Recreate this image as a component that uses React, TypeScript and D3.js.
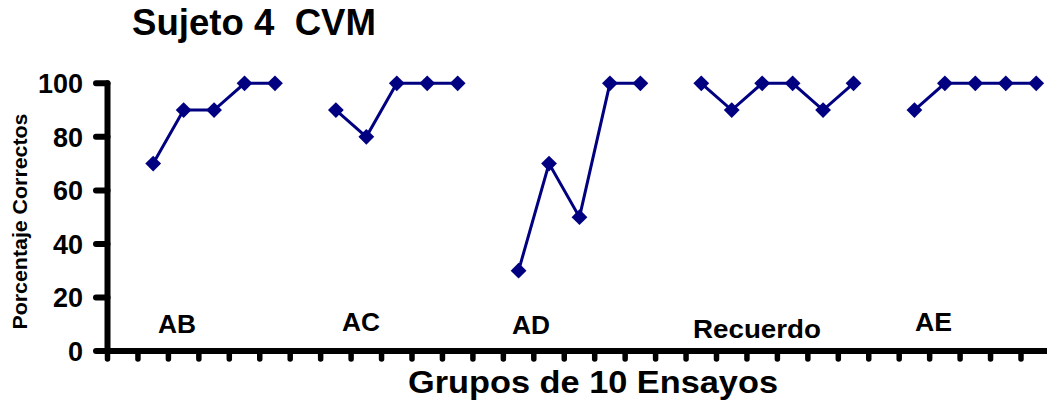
import React from "react";
import * as d3 from "d3";

const phases = ["AB", "AC", "AD", "Recuerdo", "AE"];
const abValues = [70, 90, 90, 100, 100];
const acValues = [90, 80, 100, 100, 100];
const adValues = [30, 70, 50, 100, 100];
const recuerdoValues = [100, 90, 100, 100, 90, 100];
const aeValues = [90, 100, 100, 100, 100];
const yTicks = [0, 20, 40, 60, 80, 100];
const title = "Sujeto 4  CVM";
const xTitle = "Grupos de 10 Ensayos";
const yTitle = "Porcentaje Correctos";

const phaseValues = [abValues, acValues, adValues, recuerdoValues, aeValues];

// build sequence: an empty slot before each phase
type Pt = { i: number; v: number | null; phase: number };
const seq: Pt[] = [];
phaseValues.forEach((arr, p) => {
  seq.push({ i: seq.length, v: null, phase: p });
  arr.forEach((v) => seq.push({ i: seq.length, v, phase: p }));
});

const W = 1047;
const H = 406;
const x0 = 107.5;
const bandW = 30.45;
const nBands = seq.length;
const y0 = 351;
const y100 = 83.3;

const FONT = "'Liberation Sans', Arial, Helvetica, sans-serif";
const NAVY = "#000080";

// label layout (x start, baseline) per phase
const labelLayout = [
  { x: 158, y: 333, len: 38 },
  { x: 342, y: 331, len: 38 },
  { x: 512, y: 334, len: 38 },
  { x: 693, y: 338, len: 128 },
  { x: 915, y: 331, len: 37 },
];

export default function App() {
  const xBand = d3
    .scaleBand<number>()
    .domain(d3.range(nBands))
    .range([x0, x0 + nBands * bandW])
    .padding(0);
  const y = d3.scaleLinear().domain([0, 100]).range([y0, y100]);
  const cx = (i: number) => (xBand(i) as number) + xBand.bandwidth() / 2;

  const line = d3
    .line<Pt>()
    .defined((d) => d.v !== null)
    .x((d) => cx(d.i))
    .y((d) => y(d.v as number));

  const diamond = d3.symbol().type(d3.symbolSquare).size(125)();

  const xTickPos = d3.range(nBands + 1).map((k) => x0 + k * xBand.bandwidth());

  return (
    <svg
      width={W}
      height={H}
      style={{ position: "absolute", left: 0, top: 0, background: "#fff" }}
    >
      <rect width={W} height={H} fill="#fff" />
      {/* title */}
      <text
        x={132}
        y={35}
        fontFamily={FONT}
        fontWeight="bold"
        fontSize={36.6}
        style={{ whiteSpace: "pre" }}
        textLength={244}
        lengthAdjust="spacingAndGlyphs"
      >
        {title}
      </text>

      {/* y axis */}
      <line x1={x0} x2={x0} y1={y100} y2={y0} stroke="#000" strokeWidth={6} strokeLinecap="round" />
      {yTicks.map((t) => (
        <g key={t}>
          <line x1={96} x2={x0} y1={y(t)} y2={y(t)} stroke="#000" strokeWidth={6} strokeLinecap="round" />
          <text
            x={83}
            y={y(t)}
            dy="0.36em"
            textAnchor="end"
            fontFamily={FONT}
            fontWeight="bold"
            fontSize={27}
          >
            {t}
          </text>
        </g>
      ))}

      {/* x axis */}
      <line x1={x0} x2={x0 + nBands * bandW} y1={y0} y2={y0} stroke="#000" strokeWidth={6} />
      {xTickPos.map((px, k) => (
        <line key={k} x1={px} x2={px} y1={y0} y2={359} stroke="#000" strokeWidth={5.5} strokeLinecap="round" />
      ))}

      {/* y title */}
      <text
        transform={`translate(26.5,221.5) rotate(-90)`}
        textAnchor="middle"
        fontFamily={FONT}
        fontWeight="bold"
        fontSize={19.5}
        textLength={216}
        lengthAdjust="spacingAndGlyphs"
      >
        {yTitle}
      </text>

      {/* x title */}
      <text
        x={408}
        y={393}
        fontFamily={FONT}
        fontWeight="bold"
        fontSize={30.5}
        textLength={370}
        lengthAdjust="spacingAndGlyphs"
      >
        {xTitle}
      </text>

      {/* phase labels */}
      {phases.map((p, k) => (
        <text
          key={p}
          x={labelLayout[k].x}
          y={labelLayout[k].y}
          fontFamily={FONT}
          fontWeight="bold"
          fontSize={26}
          textLength={labelLayout[k].len}
          lengthAdjust="spacingAndGlyphs"
        >
          {p}
        </text>
      ))}

      {/* series */}
      <path d={line(seq) || ""} fill="none" stroke={NAVY} strokeWidth={3} />
      {seq
        .filter((d) => d.v !== null)
        .map((d) => (
          <path
            key={d.i}
            d={diamond || ""}
            transform={`translate(${cx(d.i)},${y(d.v as number)}) rotate(45)`}
            fill={NAVY}
          />
        ))}
    </svg>
  );
}
